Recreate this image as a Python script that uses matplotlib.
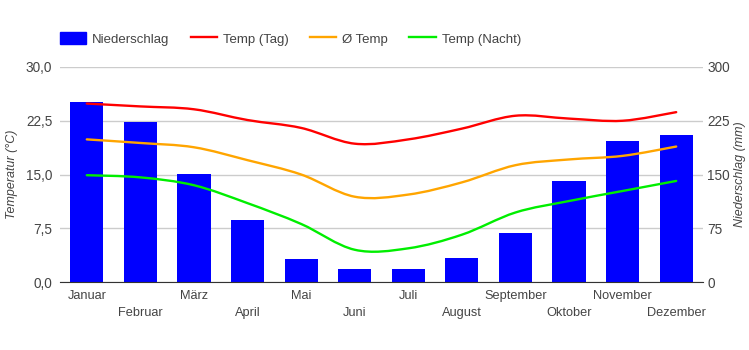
import matplotlib
matplotlib.use("Agg")
import matplotlib.pyplot as plt
from matplotlib.path import Path
from matplotlib.patches import PathPatch, Patch
from matplotlib.lines import Line2D
from matplotlib.ticker import FuncFormatter

# climate data
MONTHS = ["Januar", "Februar", "März", "April", "Mai", "Juni",
          "Juli", "August", "September", "Oktober", "November", "Dezember"]
RAIN = [251, 223, 151, 87, 32, 18, 18, 33, 68, 141, 197, 205]
TEMP_DAY = [24.9, 24.5, 24.1, 22.6, 21.5, 19.3, 19.9, 21.4, 23.2, 22.8, 22.5, 23.7]
TEMP_AVG = [19.9, 19.4, 18.8, 17.0, 15.0, 11.9, 12.2, 13.9, 16.3, 17.1, 17.6, 18.9]
TEMP_NIGHT = [14.9, 14.6, 13.5, 11.0, 8.1, 4.5, 4.7, 6.6, 9.7, 11.3, 12.7, 14.1]

BLUE = "#0000ff"
RED = "#ff0000"
ORANGE = "#ffa500"
GREEN = "#00ee00"
TEXT = "#444444"

plt.rcParams["font.family"] = ["Liberation Sans", "DejaVu Sans"]


def smooth_path(xs, ys):
    """Bezier path through the points (Catmull-Rom style)."""
    n = len(xs)
    verts = [(xs[0], ys[0])]
    codes = [Path.MOVETO]
    for i in range(n - 1):
        x0, y0 = xs[max(i - 1, 0)], ys[max(i - 1, 0)]
        x1, y1 = xs[i], ys[i]
        x2, y2 = xs[i + 1], ys[i + 1]
        x3, y3 = xs[min(i + 2, n - 1)], ys[min(i + 2, n - 1)]
        c1 = (x1 + (x2 - x0) / 6, y1 + (y2 - y0) / 6)
        c2 = (x2 - (x3 - x1) / 6, y2 - (y3 - y1) / 6)
        verts += [c1, c2, (x2, y2)]
        codes += [Path.CURVE4] * 3
    return Path(verts, codes)


fig = plt.figure(figsize=(7.49, 3.5), dpi=100)
ax = fig.add_axes([60 / 749, 68 / 350, 643 / 749, 215 / 350])
ax2 = ax.twinx()

# precipitation bars on the right-hand scale
x = list(range(len(MONTHS)))
ax.bar(x, RAIN, width=0.62, color=BLUE, zorder=2)
ax.set_ylim(0, 300)
ax.set_xlim(-0.5, len(MONTHS) - 0.5)
ax.set_yticks([0, 75, 150, 225, 300])
ax.yaxis.tick_right()
ax.yaxis.set_label_position("right")
ax.set_ylabel("Niederschlag (mm)", fontsize=9, style="italic", color=TEXT,
              labelpad=3)
ax.grid(axis="y", color="#cccccc", lw=1, zorder=0)
ax.set_axisbelow(True)

labels = [m if i % 2 == 0 else "\n" + m for i, m in enumerate(MONTHS)]
ax.set_xticks(x)
ax.set_xticklabels(labels, fontsize=9.2, color=TEXT, linespacing=1.5)
ax.tick_params(axis="both", length=0, colors=TEXT)
ax.tick_params(axis="x", pad=6)
ax.tick_params(axis="y", pad=3, labelsize=9.8)
for s in ["top", "left", "right"]:
    ax.spines[s].set_visible(False)
ax.spines["bottom"].set_color("#333333")
ax.spines["bottom"].set_zorder(3)

# temperature curves on the left-hand scale
ax2.set_ylim(0, 30)
ax2.set_xlim(ax.get_xlim())
ax2.set_yticks([0, 7.5, 15, 22.5, 30])
ax2.yaxis.set_major_formatter(FuncFormatter(lambda v, p: f"{v:.1f}".replace(".", ",")))
ax2.yaxis.tick_left()
ax2.yaxis.set_label_position("left")
ax2.set_ylabel("Temperatur (°C)", fontsize=9, style="italic", color=TEXT,
               labelpad=6)
ax2.tick_params(axis="y", length=0, colors=TEXT, labelsize=9.8, pad=5.5)
for s in ax2.spines.values():
    s.set_visible(False)

for series, col in [(TEMP_DAY, RED), (TEMP_AVG, ORANGE), (TEMP_NIGHT, GREEN)]:
    ax2.add_patch(PathPatch(smooth_path(x, series), fill=False,
                            edgecolor=col, lw=1.7, capstyle="round"))

handles = [Patch(color=BLUE), Line2D([], [], color=RED, lw=1.7),
           Line2D([], [], color=ORANGE, lw=1.7), Line2D([], [], color=GREEN, lw=1.7)]
names = ["Niederschlag", "Temp (Tag)", "Ø Temp", "Temp (Nacht)"]
leg = fig.legend(handles, names, loc="center left", ncol=4,
                 bbox_to_anchor=(60 / 749, 1 - 39 / 350), frameon=False,
                 fontsize=9.5, handlelength=2.0, handleheight=1.0,
                 handletextpad=0.45, columnspacing=1.6, borderpad=0,
                 borderaxespad=0)
for t in leg.get_texts():
    t.set_color(TEXT)

fig.savefig("out.png", dpi=100)
